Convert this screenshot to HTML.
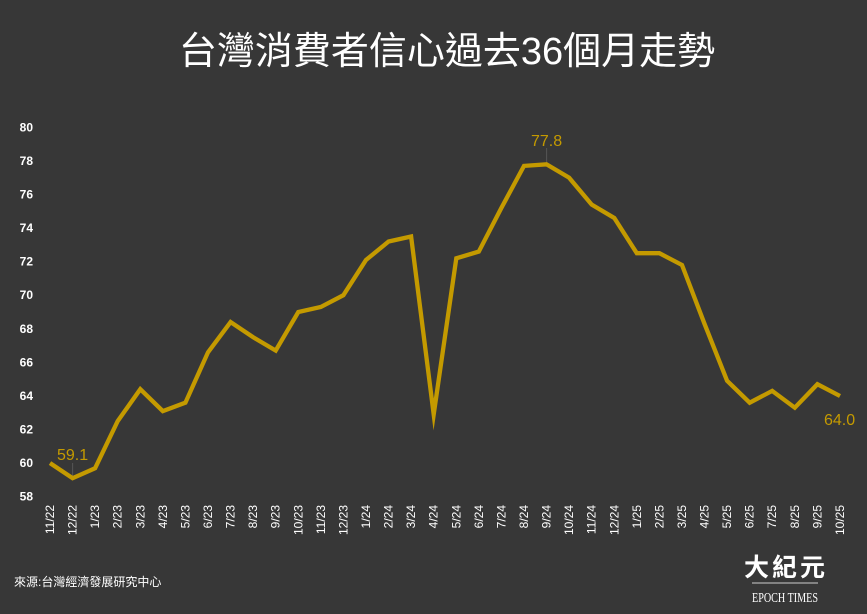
<!DOCTYPE html>
<html><head><meta charset="utf-8"><style>
body{margin:0;background:#373737;}
svg{display:block;}
</style></head><body>
<svg width="867" height="614" xmlns="http://www.w3.org/2000/svg">
<rect width="867" height="614" fill="#373737"/>
<text x="447" y="64" text-anchor="middle" fill="#fff" font-size="38" font-family="Liberation Sans, Noto Sans CJK TC, sans-serif">台灣消費者信心過去36個月走勢</text>
<g id="yl" fill="#fff" font-size="12" font-weight="bold" font-family="Liberation Sans, sans-serif" text-anchor="end"></g>
<g id="xl" fill="#fff" font-size="12" font-family="Liberation Sans, sans-serif"></g>
<line x1="72.6" y1="463" x2="72.6" y2="478" stroke="#555" stroke-width="1"/>
<line x1="546.6" y1="148" x2="546.6" y2="163" stroke="#555" stroke-width="1"/>
<polyline id="ln" fill="none" stroke="#c49a00" stroke-width="4.3" stroke-linejoin="miter" stroke-miterlimit="10"/>
<text x="57" y="460" fill="#c49a00" font-size="16" font-family="Liberation Sans, sans-serif">59.1</text>
<text x="531" y="146" fill="#c49a00" font-size="16" font-family="Liberation Sans, sans-serif">77.8</text>
<text x="824" y="425" fill="#c49a00" font-size="16" font-family="Liberation Sans, sans-serif">64.0</text>
<text x="14" y="586" fill="#fff" font-size="12" font-family="Liberation Sans, Noto Sans CJK TC, sans-serif">來源:台灣經濟發展研究中心</text>
<text x="786" y="576" text-anchor="middle" fill="#fff" font-size="25" font-weight="bold" font-family="Noto Sans CJK TC, sans-serif" letter-spacing="3">大紀元</text>
<line x1="752" y1="583" x2="818" y2="583" stroke="#ccc" stroke-width="1"/>
<text x="785" y="602" text-anchor="middle" fill="#fff" font-size="14" font-family="Liberation Serif, serif" textLength="66" lengthAdjust="spacingAndGlyphs">EPOCH TIMES</text>
</svg>
<script>
var d=[60.0,59.1,59.7,62.5,64.4,63.1,63.6,66.6,68.4,67.5,66.7,69.0,69.3,70.0,72.1,73.2,73.5,62.9,72.2,72.6,75.2,77.7,77.8,77.0,75.4,74.6,72.5,72.5,71.8,68.3,64.9,63.6,64.3,63.3,64.7,64.0];
var L=["11/22","12/22","1/23","2/23","3/23","4/23","5/23","6/23","7/23","8/23","9/23","10/23","11/23","12/23","1/24","2/24","3/24","4/24","5/24","6/24","7/24","8/24","9/24","10/24","11/24","12/24","1/25","2/25","3/25","4/25","5/25","6/25","7/25","8/25","9/25","10/25"];
function X(i){return 50+i*22.57;}function Y(v){return 496.7-(v-58)*16.79;}
var pts=d.map(function(v,i){return X(i).toFixed(1)+","+Y(v).toFixed(1)}).join(" ");
document.getElementById("ln").setAttribute("points",pts);
var ns="http://www.w3.org/2000/svg",yl=document.getElementById("yl"),xl=document.getElementById("xl");
for(var v=58;v<=80;v+=2){var t=document.createElementNS(ns,"text");t.setAttribute("x",33);t.setAttribute("y",Y(v)+4);t.textContent=v;yl.appendChild(t);}
L.forEach(function(s,i){var t=document.createElementNS(ns,"text");var x=X(i)+4;t.setAttribute("transform","translate("+x+",505) rotate(-90)");t.setAttribute("text-anchor","end");t.textContent=s;xl.appendChild(t);});
</script>
</body></html>
